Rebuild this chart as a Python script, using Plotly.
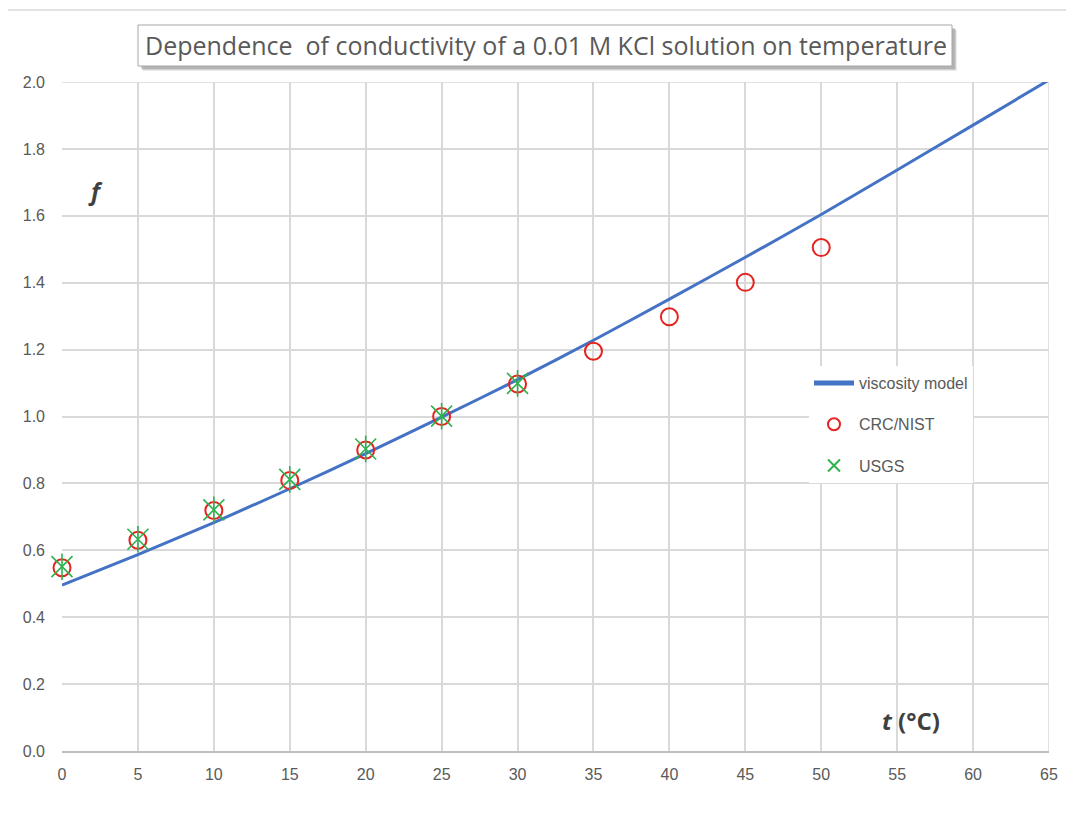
import plotly.graph_objects as go

# ---- data ----
model_t = [0, 5, 10, 15, 20, 25, 30, 35, 40, 45, 50, 55, 60, 65]
model_f = [0.496, 0.587, 0.683, 0.784, 0.889, 0.998, 1.110, 1.228, 1.351, 1.476, 1.604, 1.737, 1.871, 2.006]

crc_t = [0, 5, 10, 15, 20, 25, 30, 35, 40, 45, 50]
crc_f = [0.548, 0.630, 0.719, 0.809, 0.900, 1.000, 1.097, 1.195, 1.298, 1.401, 1.505]

usgs_t = [0, 5, 10, 15, 20, 25, 30]
usgs_f = [0.551, 0.633, 0.721, 0.812, 0.903, 1.001, 1.099]

x_ticks = [0, 5, 10, 15, 20, 25, 30, 35, 40, 45, 50, 55, 60, 65]
y_ticks = [0.0, 0.2, 0.4, 0.6, 0.8, 1.0, 1.2, 1.4, 1.6, 1.8, 2.0]

title_text = "Dependence  of conductivity of a 0.01 M KCl solution on temperature"

TXT = "#595959"
GRID = "#d9d9d9"
TICKFONT = "Liberation Sans Narrow, Liberation Sans, Arial, sans-serif"

OFF = 8  # page body margin
px_l, px_r, px_t, px_b = 62, 1049, 82, 751
W, H = px_r - px_l, px_b - px_t


def xp(px):
    return (px - px_l) / W


def yp(py):
    return (px_b - py) / H


fig = go.Figure()

fig.add_trace(go.Scatter(
    x=model_t, y=model_f, mode="lines", name="viscosity model",
    line=dict(color="#4472c4", width=3, shape="spline", smoothing=0.6),
    legendgroup="a",
))
fig.add_trace(go.Scatter(
    x=crc_t, y=crc_f, mode="markers", name="CRC/NIST", cliponaxis=False,
    marker=dict(symbol="circle-open", size=17, color="#e5231f", line=dict(width=2, color="#e5231f")),
    legendgroup="b",
))
fig.add_trace(go.Scatter(
    x=usgs_t, y=usgs_f, mode="markers", name="USGS", cliponaxis=False,
    marker=dict(symbol="x-thin-open", size=21, color="#2db24e", line=dict(width=1.6, color="#2db24e")),
    legendgroup="c",
))
fig.add_trace(go.Scatter(
    x=usgs_t, y=usgs_f, mode="markers", name="USGS", showlegend=False, cliponaxis=False,
    marker=dict(symbol="line-ns-open", size=19, color="#2db24e", line=dict(width=1.6, color="#2db24e")),
    legendgroup="c",
))

shapes = []
# outer chart border (partially visible)
shapes.append(dict(type="rect", xref="paper", yref="paper",
                   x0=xp(5), x1=xp(1090), y0=yp(840), y1=yp(10),
                   line=dict(color="#d9d9d9", width=1.5), fillcolor="rgba(0,0,0,0)", layer="below"))
# title box shadow
for i, op in enumerate([0.12, 0.18, 0.25]):
    o = 5 - i
    shapes.append(dict(type="rect", xref="paper", yref="paper",
                       x0=xp(138 + o), x1=xp(952 + o), y0=yp(66 + o), y1=yp(25 + o),
                       line=dict(width=0), fillcolor=f"rgba(90,90,90,{op})", layer="above"))
shapes.append(dict(type="rect", xref="paper", yref="paper",
                   x0=xp(138), x1=xp(952), y0=yp(66), y1=yp(25),
                   line=dict(color="#a6a6a6", width=1), fillcolor="white", layer="above"))
# right and top gridlines at range limits
shapes.append(dict(type="line", xref="x", yref="paper", x0=65, x1=65, y0=0, y1=1,
                   line=dict(color=GRID, width=1.5), layer="below"))
shapes.append(dict(type="line", xref="paper", yref="y", x0=0, x1=1, y0=2.0, y1=2.0,
                   line=dict(color=GRID, width=1.5), layer="below"))

annotations = [
    dict(text=title_text, xref="paper", yref="paper", x=xp(546), y=yp(45),
         showarrow=False, font=dict(family="Open Sans, Noto Sans, sans-serif", size=25, color=TXT),
         xanchor="center", yanchor="middle"),
    dict(text="<b><i>f</i></b>", x=2.2, y=1.675, xref="x", yref="y", showarrow=False,
         font=dict(family="Open Sans, sans-serif", size=24, color="#404040")),
    dict(text="<b><i>t</i> (°C)</b>", x=55.9, y=0.09, xref="x", yref="y", showarrow=False,
         font=dict(family="Open Sans, sans-serif", size=24, color="#404040")),
]

fig.update_layout(
    width=1074, height=815,
    margin=dict(l=px_l - OFF, r=1074 + OFF - px_r, t=px_t - OFF, b=815 + OFF - px_b, pad=0),
    paper_bgcolor="white", plot_bgcolor="white",
    shapes=shapes, annotations=annotations,
    showlegend=True,
    legend=dict(
        x=xp(809), y=yp(366), xanchor="left", yanchor="top",
        bgcolor="white", borderwidth=0, itemsizing="constant",
        font=dict(family="Liberation Sans, Arial, sans-serif", size=16, color=TXT),
        tracegroupgap=17.5, itemwidth=40,
    ),
    xaxis=dict(
        range=[0, 65], tickvals=x_ticks, showgrid=True, gridcolor=GRID, gridwidth=1.5,
        zeroline=False, showline=True, linecolor="#bfbfbf", linewidth=1.5,
        ticks="", ticklabelstandoff=8,
        tickfont=dict(family=TICKFONT, size=16, color=TXT),
    ),
    yaxis=dict(
        range=[0, 2.0], tickvals=y_ticks, tickformat=".1f", showgrid=True, gridcolor=GRID, gridwidth=1.5,
        zeroline=False, showline=False,
        ticks="", ticklabelstandoff=16,
        tickfont=dict(family=TICKFONT, size=16, color=TXT),
    ),
)

fig.write_html("out.html")
